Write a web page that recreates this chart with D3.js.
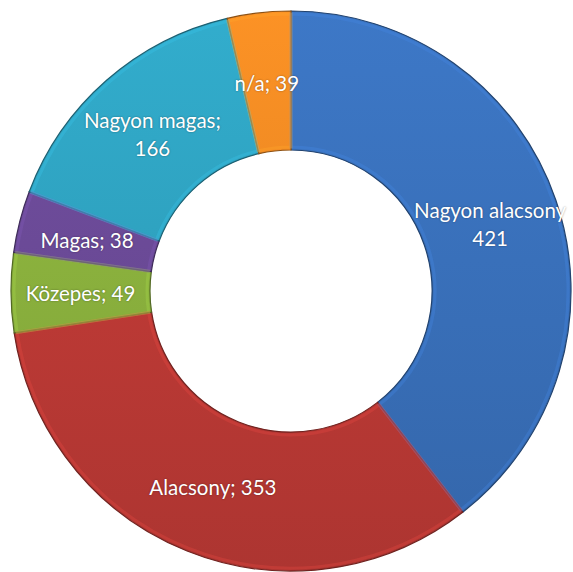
<!DOCTYPE html>
<html>
<head>
<meta charset="utf-8">
<title>Donut</title>
<script src="https://cdn.jsdelivr.net/npm/d3@7"></script>
<style>
  body { margin: 0; background: #fff; }
  .lbl { font-family: Lato, "Open Sans", sans-serif; font-size: 20.5px; fill: #fff;
         text-shadow: 0 0 2px rgba(0,0,0,0.4); }
</style>
</head>
<body>
<div id="chart"></div>
<script>
var categories = ["Nagyon alacsony", "Alacsony", "Közepes", "Magas", "Nagyon magas", "n/a"];
var values = [421, 353, 49, 38, 166, 39];
var labels = [["Nagyon alacsony", "421"], ["Alacsony; 353"], ["Közepes; 49"], ["Magas; 38"], ["Nagyon magas;", "166"], ["n/a; 39"]];
var colors = ["#3a72bd", "#c03b36", "#8cb33e", "#6c4b99", "#2fa4c2", "#ef8a23"];

var width = 573, height = 572;
var cx = 291, cy = 291, outerR = 280, innerR = 141;

var svg = d3.select("#chart").append("svg")
  .attr("width", width).attr("height", height);

var defs = svg.append("defs");
colors.forEach(function(c, i) {
  var g = defs.append("linearGradient").attr("id", "g" + i)
    .attr("gradientUnits", "userSpaceOnUse")
    .attr("x1", 0).attr("y1", -outerR).attr("x2", 0).attr("y2", outerR);
  g.append("stop").attr("offset", "0%").attr("stop-color", d3.color(c).brighter(0.15));
  g.append("stop").attr("offset", "100%").attr("stop-color", d3.color(c).darker(0.3));
});

var data = categories.map(function(c, i) { return { name: c, value: values[i], i: i }; });

var pie = d3.pie().value(function(d) { return d.value; }).sort(null);
var arc = d3.arc().innerRadius(innerR).outerRadius(outerR);
var bevel = d3.arc().innerRadius(innerR + 3).outerRadius(outerR - 3);

var g = svg.append("g").attr("transform", "translate(" + cx + "," + cy + ")");
var arcs = pie(data);

g.selectAll("path.slice").data(arcs).enter().append("path")
  .attr("class", "slice")
  .attr("d", arc)
  .attr("fill", function(d) { return "url(#g" + d.data.i + ")"; })
  .attr("stroke", function(d) { return d3.color(colors[d.data.i]).darker(1.5); })
  .attr("stroke-width", 1.2);

// soft bevel highlight
g.selectAll("path.bev").data(arcs).enter().append("path")
  .attr("class", "bev")
  .attr("d", bevel)
  .attr("fill", "none")
  .attr("stroke", function(d) { return d3.color(colors[d.data.i]).brighter(0.5); })
  .attr("stroke-opacity", 0.35)
  .attr("stroke-width", 3);

var txt = g.selectAll("text.lbl").data(arcs).enter().append("text")
  .attr("class", "lbl")
  .attr("text-anchor", "middle")
  .attr("transform", function(d) {
    var c = arc.centroid(d);
    return "translate(" + c[0] + "," + c[1] + ")";
  });

txt.each(function(d) {
  var lines = labels[d.data.i];
  var t = d3.select(this);
  var lh = 28;
  var y0 = -(lines.length - 1) * lh / 2 + 9;
  lines.forEach(function(l, k) {
    t.append("tspan").attr("x", 0).attr("y", y0 + k * lh).text(l);
  });
});
</script>
</body>
</html>
